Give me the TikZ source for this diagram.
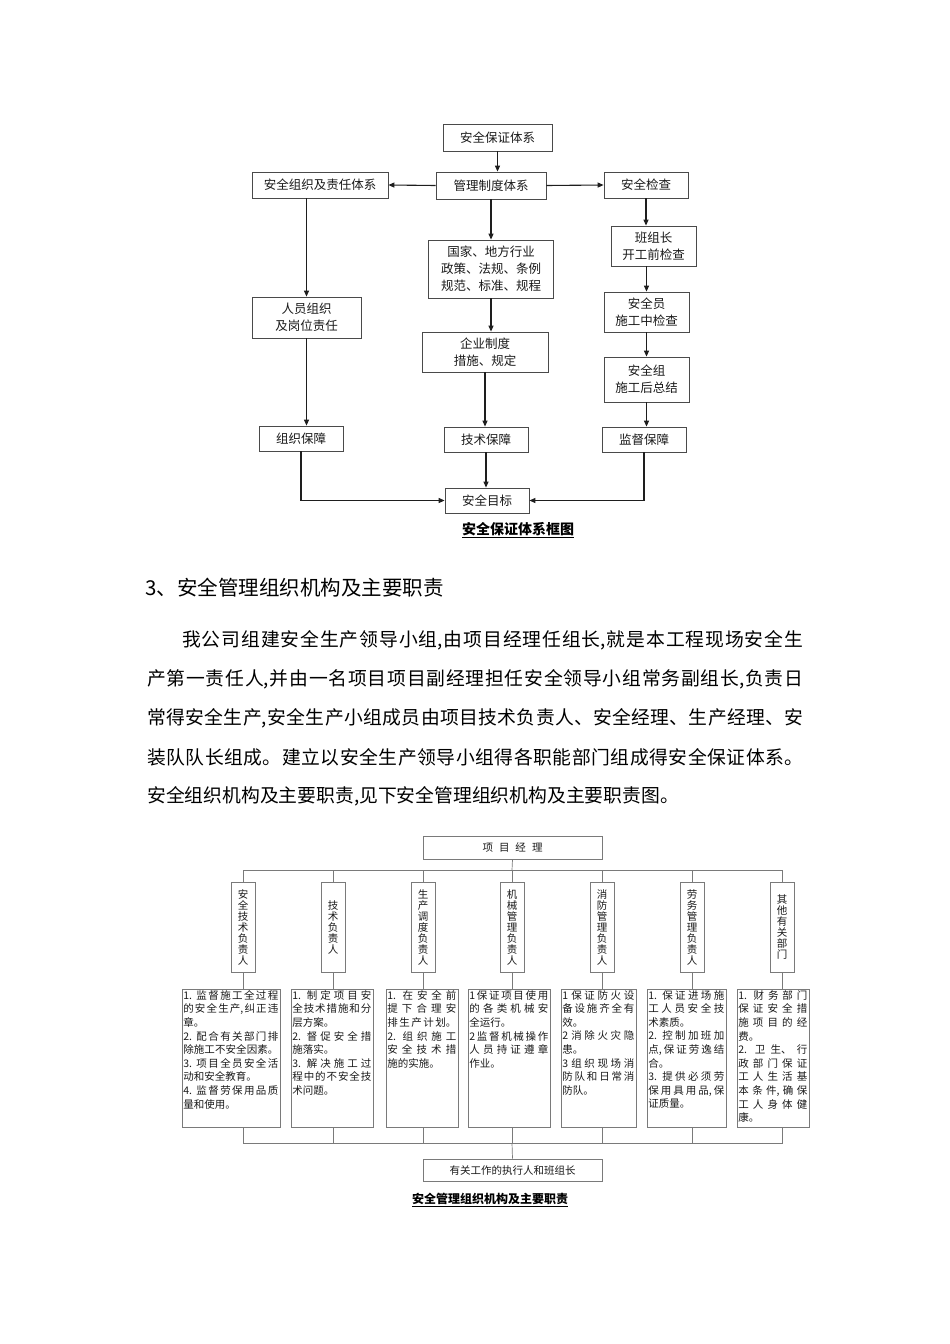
\documentclass[tikz,border=0pt]{standalone}
\usepackage{fontspec}
\setmainfont{Noto Sans CJK SC}
\usepackage{tikz}
\usetikzlibrary{arrows.meta}
\definecolor{FrameGray}{HTML}{4A4A4A}
\definecolor{ArrowBlack}{HTML}{1E1E1E}
\definecolor{OrgGray}{HTML}{7A7A7A}
\definecolor{InkDark}{HTML}{1A1A1A}
\XeTeXlinebreaklocale "zh"
\XeTeXlinebreakskip=0pt plus 4pt minus 0.4pt
\setlength{\parindent}{0pt}
\newcommand{\fl}[1]{{\parfillskip=0pt #1\par}}

\begin{document}
\begin{tikzpicture}[x=1pt, y=-1pt,
  tbox/.style={rectangle, draw=FrameGray, line width=0.8pt, fill=white, align=center,
    inner sep=0pt, text=InkDark, font=\fontsize{12.5}{17}\selectfont},
  arrow/.style={-{Triangle[length=6pt,width=5pt]}, line width=1.1pt, color=ArrowBlack},
  obox/.style={rectangle, draw=OrgGray, line width=0.7pt, inner sep=0pt, text=InkDark,
    font=\fontsize{10.5}{11}\selectfont},
  vbox/.style={obox, minimum width=24pt, minimum height=90pt, align=center},
  dbox/.style={obox, minimum height=138pt},
  dtext/.style={anchor=north west, inner sep=1.5pt, align=justify, text=InkDark,
    font=\fontsize{10.5}{13.6}\selectfont},
  link/.style={draw=OrgGray, line width=0.7pt},
  figcap/.style={inner sep=0pt, font=\fontsize{14}{16}\selectfont\bfseries},
  bodyline/.style={anchor=west, inner sep=0pt, align=justify, font=\fontsize{18.8}{20}\selectfont}
]
\fill[white] (0,0) rectangle (950,1344);
\useasboundingbox (0,0) rectangle (950,1344);

\node[tbox, minimum width=109pt, minimum height=27pt] (sys) at (497.5,137.5) {安全保证体系};
\node[tbox, minimum width=110pt, minimum height=27pt] (mgmt) at (491,185.5) {管理制度体系};
\node[tbox, minimum width=136pt, minimum height=26pt] (org) at (320,185) {安全组织及责任体系};
\node[tbox, minimum width=84pt, minimum height=26pt] (chk) at (646,185) {安全检查};
\node[tbox, minimum width=125pt, minimum height=58pt] (law) at (491,269) {国家、地方行业\\政策、法规、条例\\规范、标准、规程};
\node[tbox, minimum width=85pt, minimum height=40pt] (team) at (653.5,246) {班组长\\开工前检查};
\node[tbox, minimum width=85pt, minimum height=40pt] (officer) at (646.5,312) {安全员\\施工中检查};
\node[tbox, minimum width=85pt, minimum height=45pt] (group) at (646.5,379.5) {安全组\\施工后总结};
\node[tbox, minimum width=109pt, minimum height=41pt] (staff) at (306.5,317.5) {人员组织\\及岗位责任};
\node[tbox, minimum width=126pt, minimum height=40pt] (firm) at (485,352) {企业制度\\措施、规定};
\node[tbox, minimum width=84pt, minimum height=25pt] (orgok) at (301,438.5) {组织保障};
\node[tbox, minimum width=84pt, minimum height=25pt] (techok) at (486,439.5) {技术保障};
\node[tbox, minimum width=84pt, minimum height=25pt] (supok) at (644,439.5) {监督保障};
\node[tbox, minimum width=84pt, minimum height=25pt] (goal) at (487,500.5) {安全目标};

\draw[arrow] (sys.south) -- (sys.south |- mgmt.north);
\draw[arrow] (mgmt.west) -- (org.east);
\draw[arrow] (mgmt.east) -- (chk.west);
\draw[arrow] (mgmt.south) -- (mgmt.south |- law.north);
\draw[arrow] (law.south) -- (law.south |- firm.north);
\draw[arrow] (firm.south) -- (firm.south |- techok.north);
\draw[arrow] (techok.south) -- (techok.south |- goal.north);
\draw[arrow] (org.south -| staff) -- (staff.north);
\draw[arrow] (staff.south) -- (staff.south |- orgok.north);
\draw[arrow] (orgok.south) |- (goal.west);
\draw[arrow] (chk.south) -- (chk.south |- team.north);
\draw[arrow] (team.south -| officer) -- (officer.north);
\draw[arrow] (officer.south) -- (group.north);
\draw[arrow] (group.south) -- (group.south |- supok.north);
\draw[arrow] (supok.south) |- (goal.east);

\node[figcap] (cap1) at (518,530) {\underline{安全保证体系框图}};

\node[anchor=west, inner sep=0pt, font=\fontsize{20.5}{22}\selectfont] (head) at (145,588) {3、安全管理组织机构及主要职责};
\node[bodyline, text width=621pt] (p1) at (182,640) {\fl{我公司组建安全生产领导小组,由项目经理任组长,就是本工程现场安全生}};
\node[bodyline, text width=656pt] (p2) at (147,679) {\fl{产第一责任人,并由一名项目项目副经理担任安全领导小组常务副组长,负责日}};
\node[bodyline, text width=656pt] (p3) at (147,718) {\fl{常得安全生产,安全生产小组成员由项目技术负责人、安全经理、生产经理、安}};
\node[bodyline, text width=656pt] (p4) at (147,757) {\fl{装队队长组成。建立以安全生产领导小组得各职能部门组成得安全保证体系。}};
\node[bodyline] (p5) at (147,796) {安全组织机构及主要职责,见下安全管理组织机构及主要职责图。};

\node[obox, minimum width=179pt, minimum height=23pt] (pm) at (512.5,847.5) {项\hspace{6pt}目\hspace{6pt}经\hspace{6pt}理};
\coordinate (topbus) at (512,870);
\coordinate (lowbus) at (512,1143);

\node[vbox] (v1) at (243,927) {安\\全\\技\\术\\负\\责\\人};
\node[vbox] (v2) at (333,927) {技\\术\\负\\责\\人};
\node[vbox] (v3) at (423,927) {生\\产\\调\\度\\负\\责\\人};
\node[vbox] (v4) at (512,927) {机\\械\\管\\理\\负\\责\\人};
\node[vbox] (v5) at (602,927) {消\\防\\管\\理\\负\\责\\人};
\node[vbox] (v6) at (692,927) {劳\\务\\管\\理\\负\\责\\人};
\node[vbox] (v7) at (782,927) {其\\他\\有\\关\\部\\门};

\node[dbox, minimum width=98pt] (d1) at (231,1058) {};
\node[dbox, minimum width=82pt] (d2) at (332,1058) {};
\node[dbox, minimum width=72pt] (d3) at (422,1058) {};
\node[dbox, minimum width=82pt] (d4) at (509,1058) {};
\node[dbox, minimum width=75pt] (d5) at (598.5,1058) {};
\node[dbox, minimum width=79pt] (d6) at (686.5,1058) {};
\node[dbox, minimum width=72pt] (d7) at (773,1058) {};

\node[dtext, text width=95pt] (t1) at (d1.north west) {\fl{1. 监督施工全过程}\fl{的安全生产,纠正违}章。\par
  \fl{2. 配合有关部门排}\fl{除施工不安全因素。}\fl{3. 项目全员安全活}动和安全教育。\par
  \fl{4. 监督劳保用品质}量和使用。\par};
\node[dtext, text width=79pt] (t2) at (d2.north west) {\fl{1. 制定项目安}\fl{全技术措施和分}层方案。\par
  \fl{2. 督促安全措}施落实。\par\fl{3. 解决施工过}\fl{程中的不安全技}术问题。\par};
\node[dtext, text width=69pt] (t3) at (d3.north west) {\fl{1. 在安全前}\fl{提下合理安}\fl{排生产计划。}
  \fl{2. 组织施工}\fl{安全技术措}施的实施。\par};
\node[dtext, text width=79pt] (t4) at (d4.north west) {\fl{1保证项目使用}\fl{的各类机械安}全运行。\par
  \fl{2监督机械操作}\fl{人员持证遵章}作业。\par};
\node[dtext, text width=72pt] (t5) at (d5.north west) {\fl{1 保证防火设}\fl{备设施齐全有}效。\par
  \fl{2 消除火灾隐}患。\par\fl{3 组织现场消}\fl{防队和日常消}防队。\par};
\node[dtext, text width=76pt] (t6) at (d6.north west) {\fl{1. 保证进场施}\fl{工人员安全技}术素质。\par
  \fl{2. 控制加班加}\fl{点,保证劳逸结}合。\par\fl{3. 提供必须劳}\fl{保用具用品,保}证质量。\par};
\node[dtext, text width=69pt] (t7) at (d7.north west) {\fl{1. 财务部门}\fl{保证安全措}\fl{施项目的经}费。\par
  \fl{2. 卫生、行}\fl{政部门保证}\fl{工人生活基}\fl{本条件,确保}\fl{工人身体健}康。\par};

\node[obox, minimum width=179pt, minimum height=22pt] (crew) at (512.5,1170) {有关工作的执行人和班组长};

\draw[link] (pm.south) -- (topbus);
\draw[link] (v1.north) |- (topbus -| v7) -- (v7.north);
\draw[link] (v2.north) -- (v2.north |- topbus);
\draw[link] (v3.north) -- (v3.north |- topbus);
\draw[link] (v4.north) -- (v4.north |- topbus);
\draw[link] (v5.north) -- (v5.north |- topbus);
\draw[link] (v6.north) -- (v6.north |- topbus);
\draw[link] (v1.south) -- (v1.south |- d1.north);
\draw[link] (v2.south) -- (v2.south |- d2.north);
\draw[link] (v3.south) -- (v3.south |- d3.north);
\draw[link] (v4.south) -- (v4.south |- d4.north);
\draw[link] (v5.south) -- (v5.south |- d5.north);
\draw[link] (v6.south) -- (v6.south |- d6.north);
\draw[link] (v7.south) -- (v7.south |- d7.north);
\draw[link] (v1 |- d1.south) |- (lowbus -| v7) -- (v7 |- d7.south);
\draw[link] (v2 |- d2.south) -- (v2 |- lowbus);
\draw[link] (v3 |- d3.south) -- (v3 |- lowbus);
\draw[link] (v4 |- d4.south) -- (v4 |- lowbus);
\draw[link] (v5 |- d5.south) -- (v5 |- lowbus);
\draw[link] (v6 |- d6.south) -- (v6 |- lowbus);
\draw[link] (lowbus) -- (crew.north);

\node[figcap, font=\fontsize{12}{14}\selectfont\bfseries] (cap2) at (490,1200) {\underline{安全管理组织机构及主要职责}};
\end{tikzpicture}
\end{document}
